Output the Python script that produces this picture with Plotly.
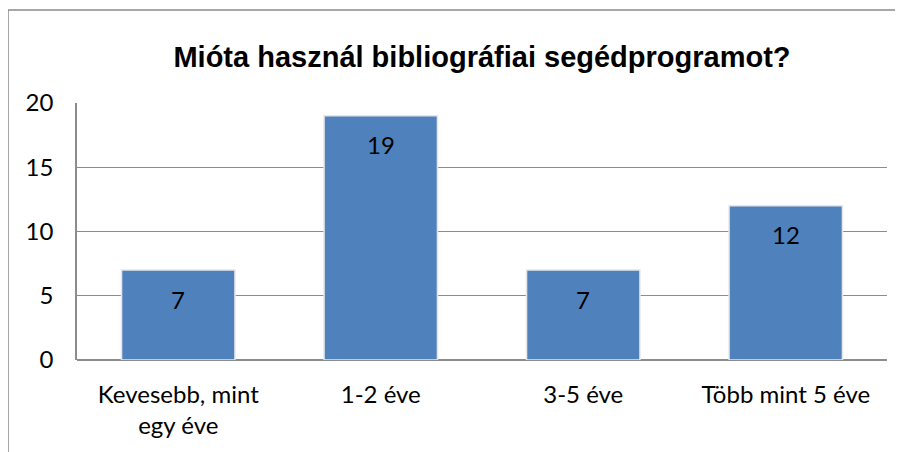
import plotly.graph_objects as go

# data
categories = ["Kevesebb, mint<br>egy éve", "1-2 éve", "3-5 éve", "Több mint 5 éve"]
counts = [7, 19, 7, 12]
y_ticks = [0, 5, 10, 15, 20]

TITLE = "Mióta használ bibliográfiai segédprogramot?"
BAR_COLOR = "#4F81BD"
GRID_COLOR = "#8C8C8C"
LABEL_FONT = dict(family="Lato, 'Open Sans', sans-serif", size=24, color="#000000")

# the page body adds an 8px margin, so the figure is 8px smaller than the window
W, H = 895, 444
L, R, T, B = 69, 16, 95, 92
pw, ph = W - L - R, H - T - B

fig = go.Figure()

fig.add_trace(go.Bar(
    x=categories,
    y=counts,
    marker=dict(color=BAR_COLOR, line=dict(color="#E6E6E6", width=1.5)),
    hoverinfo="x+y",
))

# value labels sit a little below the top of each bar
for cat, val in zip(categories, counts):
    fig.add_annotation(
        x=cat, y=val, text=str(val),
        showarrow=False, yshift=-29,
        font=LABEL_FONT,
    )

# outer chart frame (runs off the right and bottom edge like the source)
fig.add_shape(
    type="rect", xref="paper", yref="paper",
    x0=(0 - L) / pw, x1=(W + 20 - L) / pw,
    y0=-(H + 20 - T - ph) / ph, y1=(ph + T - 2) / ph,
    line=dict(color="#8A8A8A", width=1.5),
    fillcolor="rgba(0,0,0,0)",
    layer="below",
)

fig.update_layout(
    title=dict(
        text=f"<b>{TITLE}</b>",
        font=dict(family="Arial, 'Liberation Sans', sans-serif", size=29, color="#000000"),
        x=474 / W, xanchor="center",
        y=1 - 49 / H, yanchor="middle",
    ),
    width=W, height=H,
    margin=dict(l=L, r=R, t=T, b=B),
    paper_bgcolor="white",
    plot_bgcolor="white",
    showlegend=False,
    bargap=0.44,
    xaxis=dict(
        showgrid=False,
        showline=False,
        ticks="",
        tickfont=LABEL_FONT,
        ticklabelstandoff=18,
    ),
    yaxis=dict(
        range=[0, 20],
        tickvals=y_ticks,
        showgrid=True,
        gridcolor=GRID_COLOR,
        gridwidth=1.2,
        zeroline=True,
        zerolinecolor=GRID_COLOR,
        zerolinewidth=1.5,
        showline=True,
        linecolor=GRID_COLOR,
        linewidth=1.5,
        ticks="",
        tickfont=LABEL_FONT,
        ticklabelstandoff=17,
    ),
)

fig.write_html("out.html")
